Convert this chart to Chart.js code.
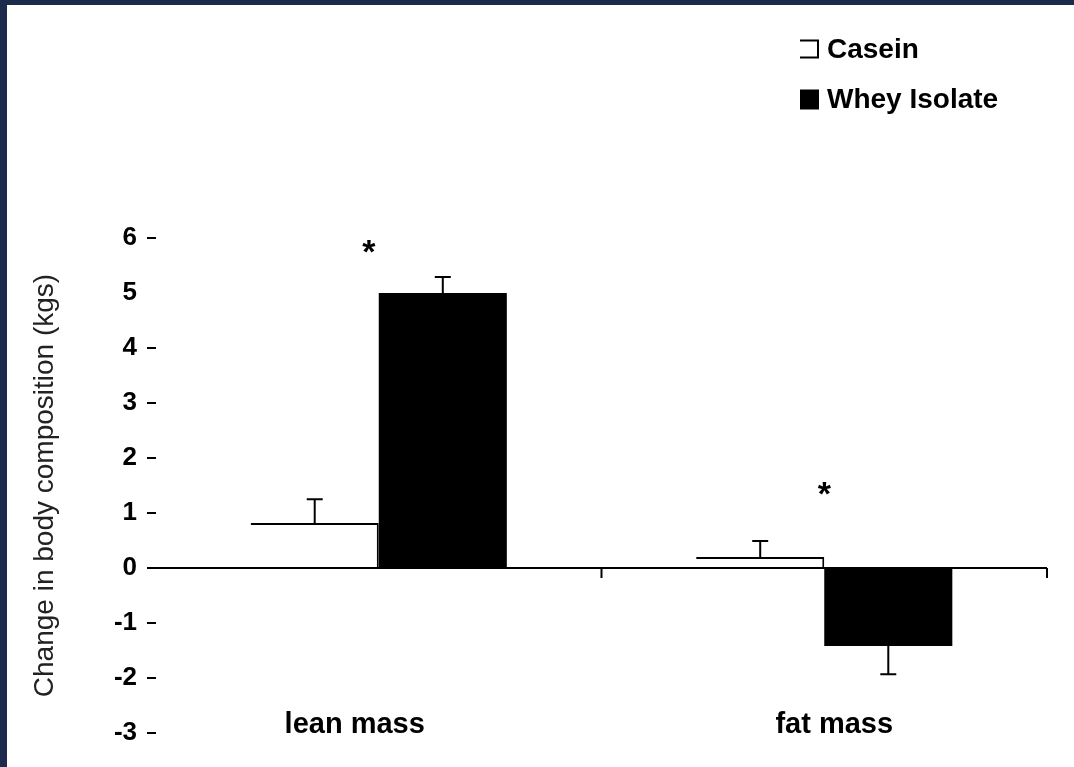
<!DOCTYPE html>
<html>
<head>
<meta charset="utf-8">
<script src="https://cdn.jsdelivr.net/npm/chart.js@4/dist/chart.umd.min.js"></script>
<style>
  html, body { margin: 0; padding: 0; width: 1074px; height: 767px; overflow: hidden; background: #1c2a4c; }
  #wrap { position: absolute; left: 7px; top: 5px; width: 1067px; height: 762px; background: #ffffff; }
  canvas { display: block; }
</style>
</head>
<body>
<div id="wrap"><canvas id="c" width="1067" height="762"></canvas></div>
<script>
// Change in body composition (kg) after supplementation
const categories   = ['lean mass', 'fat mass'];
const seriesNames  = ['Casein', 'Whey Isolate'];
const caseinChange = [0.82, 0.20];
const wheyChange   = [5.00, -1.42];
const caseinSE     = [0.43, 0.29];
const wheySE       = [0.29, 0.51];
const sigMarkLevel = [5.84, 1.45];   // height of the "*" above each group
const yTickValues  = [-3, -2, -1, 0, 1, 2, 3, 4, 5, 6];
const yTitle       = 'Change in body composition (kgs)';

const FONT = '"Liberation Sans", Arial, Helvetica, sans-serif';

const errorSets = [caseinSE, wheySE];

const decorations = {
  id: 'decorations',
  afterDatasetsDraw(chart) {
    const { ctx, chartArea, scales: { x, y } } = chart;
    ctx.save();
    ctx.strokeStyle = '#000';
    ctx.lineWidth = 2;

    // error bars, pointing away from zero
    errorSets.forEach((errs, di) => {
      const meta = chart.getDatasetMeta(di);
      const vals = chart.data.datasets[di].data;
      meta.data.forEach((bar, i) => {
        const v = vals[i];
        const dir = v >= 0 ? 1 : -1;
        const yBar = y.getPixelForValue(v);
        const yEnd = y.getPixelForValue(v + dir * errs[i]);
        ctx.beginPath();
        ctx.moveTo(bar.x, yBar);
        ctx.lineTo(bar.x, yEnd);
        ctx.moveTo(bar.x - 8, yEnd);
        ctx.lineTo(bar.x + 8, yEnd);
        ctx.stroke();
      });
    });

    // small downward ticks on the zero line at group boundaries
    const y0 = y.getPixelForValue(0);
    for (let i = 1; i <= categories.length; i++) {
      const bx = i === categories.length
        ? chartArea.right
        : (x.getPixelForValue(i - 1) + x.getPixelForValue(i)) / 2;
      ctx.beginPath();
      ctx.moveTo(bx, y0);
      ctx.lineTo(bx, y0 + 10);
      ctx.stroke();
    }

    // significance markers
    ctx.fillStyle = '#000';
    ctx.font = 'bold 34px ' + FONT;
    ctx.textAlign = 'center';
    ctx.textBaseline = 'alphabetic';
    const sigNudge = [-10, 0];
    sigMarkLevel.forEach((lvl, i) => {
      const m = ctx.measureText('*');
      const cy = y.getPixelForValue(lvl);
      const base = cy + (m.actualBoundingBoxAscent - m.actualBoundingBoxDescent) / 2;
      ctx.fillText('*', x.getPixelForValue(i) + sigNudge[i], base);
    });

    // group labels along the bottom of the plot
    ctx.font = 'bold 29px ' + FONT;
    ctx.textBaseline = 'middle';
    const labelNudge = [-24, 10];
    const yLab = y.getPixelForValue(y.min) - 8;
    categories.forEach((name, i) => {
      ctx.fillText(name, x.getPixelForValue(i) + labelNudge[i], yLab);
    });

    // legend, stacked in the top-right corner
    ctx.textAlign = 'left';
    ctx.font = 'bold 28px ' + FONT;
    const lx = 793, rows = [45, 95], box = 19;
    chart.data.datasets.forEach((ds, i) => {
      const cy = rows[i];
      const top = cy - box / 2 - 1;
      if (ds.backgroundColor === '#ffffff') {
        ctx.beginPath();
        ctx.moveTo(lx, top + 1);
        ctx.lineTo(lx + box - 1, top + 1);
        ctx.lineTo(lx + box - 1, top + box - 1);
        ctx.lineTo(lx, top + box - 1);
        ctx.stroke();
      } else {
        ctx.fillStyle = ds.backgroundColor;
        ctx.fillRect(lx, top, box, box + 1);
      }
      ctx.fillStyle = '#000';
      ctx.fillText(ds.label, lx + 27, cy);
    });
    ctx.restore();
  }
};

new Chart(document.getElementById('c'), {
  type: 'bar',
  data: {
    labels: categories,
    datasets: [
      {
        label: seriesNames[0],
        data: caseinChange,
        backgroundColor: '#ffffff',
        borderColor: '#000000',
        borderWidth: { top: 2, right: 2, bottom: 0, left: 0 },
        borderSkipped: false,
        categoryPercentage: 0.575,
        barPercentage: 1.0
      },
      {
        label: seriesNames[1],
        data: wheyChange,
        backgroundColor: '#000000',
        borderWidth: 0,
        categoryPercentage: 0.575,
        barPercentage: 1.0
      }
    ]
  },
  options: {
    responsive: false,
    devicePixelRatio: 1,
    animation: false,
    layout: { padding: { left: 0, top: 233, right: 27, bottom: 34 } },
    plugins: {
      legend: { display: false },
      tooltip: { enabled: false }
    },
    scales: {
      x: {
        type: 'category',
        display: false,
        offset: true
      },
      y: {
        min: -3,
        max: 6,
        afterFit(scale) { scale.width = 149; },
        afterBuildTicks(scale) { scale.ticks = yTickValues.map(v => ({ value: v })); },
        border: { display: false },
        grid: {
          drawOnChartArea: true,
          color: c => (c.tick && c.tick.value === 0) ? '#000000' : 'rgba(0,0,0,0)',
          tickColor: c => (c.tick && c.tick.value === 5) ? 'rgba(0,0,0,0)' : '#000000',
          lineWidth: 2,
          tickWidth: 2,
          tickLength: 9
        },
        ticks: {
          padding: 10,
          color: '#000',
          font: { family: FONT, size: 26, weight: 'bold' }
        },
        title: {
          display: true,
          text: yTitle,
          color: '#222',
          font: { family: FONT, size: 28, weight: 'normal' },
          padding: { top: 21, bottom: 0 }
        }
      }
    }
  },
  plugins: [decorations]
});
</script>
</body>
</html>
